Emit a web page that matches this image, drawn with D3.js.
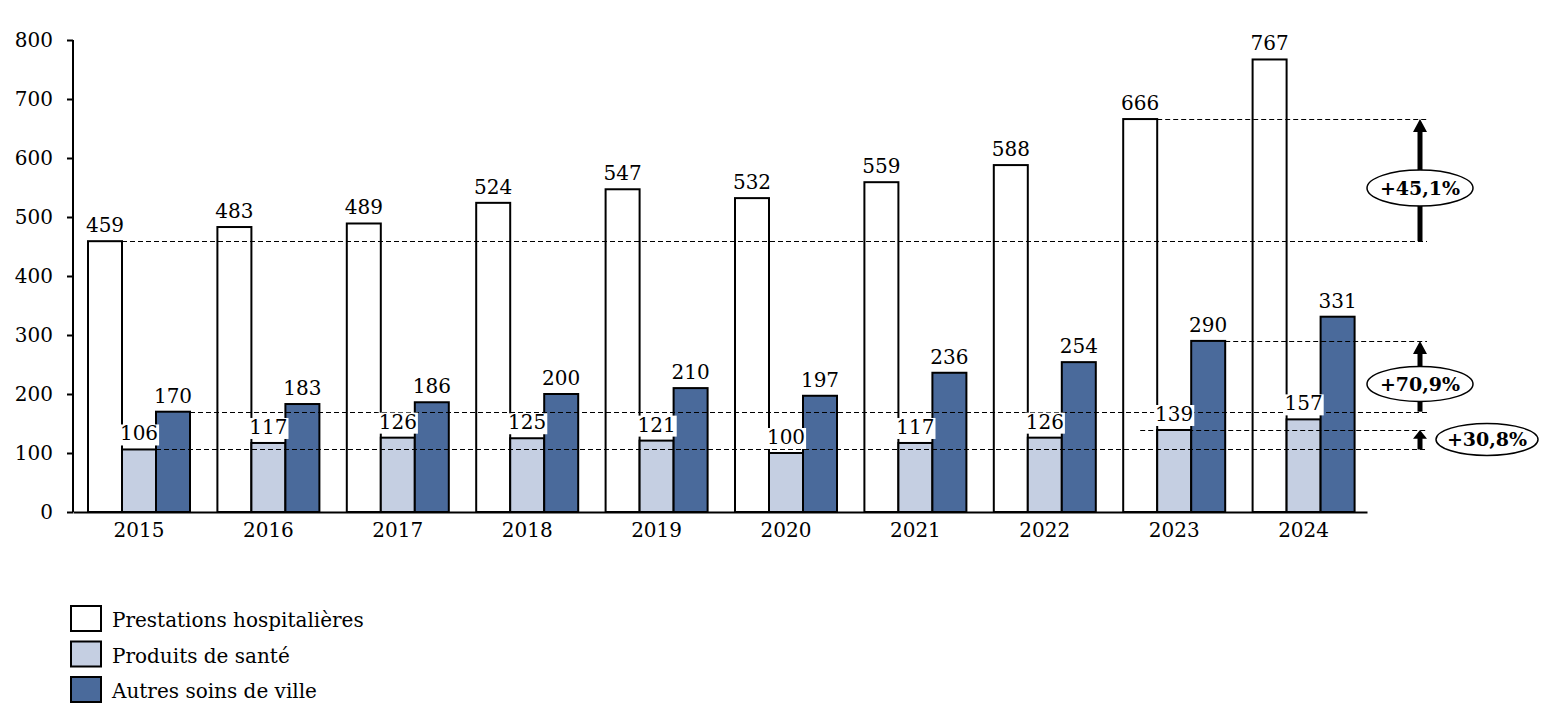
<!DOCTYPE html>
<html><head><meta charset="utf-8">
<script src="https://cdn.jsdelivr.net/npm/d3@7"></script>
<style>body{margin:0;background:#fff}svg{display:block}text{font-family:"DejaVu Serif",serif}</style>
</head><body><svg id="c" width="1541" height="716"></svg>
<script>
const years = [2015,2016,2017,2018,2019,2020,2021,2022,2023,2024];
const hospitalieres = [459,483,489,524,547,532,559,588,666,767];
const produits = [106,117,126,125,121,100,117,126,139,157];
const autres = [170,183,186,200,210,197,236,254,290,331];
const seriesNames = ["Prestations hospitalières","Produits de santé","Autres soins de ville"];
const seriesColors = ["#ffffff","#c5cfe2","#4a6a9b"];
const yTicks = [0,100,200,300,400,500,600,700,800];
// reference lines: value, start year, series index
const refLines = [
  {v:459, year:2015, s:0},
  {v:666, year:2023, s:0},
  {v:170, year:2015, s:2},
  {v:290, year:2023, s:2},
  {v:106, year:2015, s:1},
  {v:139, year:2023, s:0, mid:true}
];
const growth = [
  {from:459, to:666, label:"+45,1%", at:549, dx:0, rx:53, ry:18},
  {from:170, to:290, label:"+70,9%", at:217, dx:0, rx:53, ry:17.5},
  {from:106, to:139, label:"+30,8%", at:123, dx:67, rx:51, ry:16}
];

const seriesData = [hospitalieres, produits, autres];
const svg = d3.select("#c");
const x0 = d3.scaleBand().domain(years).range([73,1367]).padding(0);
const x1 = d3.scaleBand().domain([0,1,2]).range([15,117]).padding(0);
const y = d3.scaleLinear().domain([0,800]).range([512,40]);
const FS = 20;

// bars
const g = svg.append("g");
years.forEach((yr,i)=>{
  seriesData.forEach((arr,s)=>{
    g.append("rect")
      .attr("x", x0(yr)+x1(s)).attr("y", y(arr[i]))
      .attr("width", x1.bandwidth()).attr("height", y(0)-y(arr[i]))
      .attr("fill", seriesColors[s]).attr("stroke","#000").attr("stroke-width",2);
  });
});

// dashed reference lines
const lineEnd = 1427;
refLines.forEach(r=>{
  const xs = r.mid ? x0(r.year)+x1(r.s)+x1.bandwidth()/2 : x0(r.year)+x1(r.s)+x1.bandwidth();
  const yy = Math.round(y(r.v))+0.5;
  svg.append("line").attr("x1", xs).attr("x2", lineEnd)
    .attr("y1", yy).attr("y2", yy)
    .attr("stroke","#000").attr("stroke-width",1).attr("stroke-dasharray","5,3");
});

// value labels with white background
const lab = svg.append("g");
years.forEach((yr,i)=>{
  seriesData.forEach((arr,s)=>{
    const cx = x0(yr)+x1(s)+x1.bandwidth()/2;
    const t = lab.append("text").attr("x",cx).attr("y",y(arr[i])-9)
      .attr("text-anchor","middle").attr("font-size",FS).attr("fill","#000").text(arr[i]);
    const bb = t.node().getBBox();
    const bottom = Math.min(bb.y+bb.height, y(arr[i])-2);
    lab.insert("rect","text:last-child")
      .attr("x", bb.x-1).attr("y", bb.y+3).attr("width", bb.width+2).attr("height", bottom-bb.y-3)
      .attr("fill","#fff");
  });
});
lab.selectAll("text").raise();

// axes
const yAxis = svg.append("g").attr("transform","translate(73,0)")
  .call(d3.axisLeft(y).tickValues(yTicks).tickSize(6).tickPadding(14).tickFormat(d3.format("d")));
yAxis.select(".domain").attr("stroke","#000").attr("stroke-width",2).attr("d","M0,40V512");
yAxis.selectAll(".tick line").attr("stroke","#000").attr("stroke-width",2);
yAxis.selectAll(".tick text").attr("font-size",FS).attr("font-family","DejaVu Serif").attr("fill","#000");

const xAxis = svg.append("g").attr("transform","translate(0,512)")
  .call(d3.axisBottom(x0).tickSize(0).tickPadding(0));
xAxis.select(".domain").attr("stroke","#000").attr("stroke-width",2);
xAxis.selectAll(".tick").attr("transform", d=>`translate(${x0(d)+ (x1.range()[0]+x1.range()[1])/2},0)`);
xAxis.selectAll(".tick text").attr("font-size",FS).attr("font-family","DejaVu Serif").attr("fill","#000").attr("dy",null).attr("y",25);

// growth arrows
const ax = 1420;
growth.forEach(gr=>{
  const top = y(gr.to), bot = y(gr.from);
  const headH = Math.min(13, (bot-top)*0.45);
  svg.append("line").attr("x1",ax).attr("x2",ax).attr("y1",bot).attr("y2",top+headH-1)
    .attr("stroke","#000").attr("stroke-width",5);
  svg.append("path").attr("d",`M${ax},${top} L${ax+7},${top+headH} L${ax-7},${top+headH} Z`).attr("fill","#000");
  const cx = ax+gr.dx, cy = y(gr.at);
  svg.append("ellipse").attr("cx",cx).attr("cy",cy).attr("rx",gr.rx).attr("ry",gr.ry)
    .attr("fill","#fff").attr("stroke","#000").attr("stroke-width",1.5);
  svg.append("text").attr("x",cx).attr("y",cy).attr("dy","0.36em").attr("text-anchor","middle")
    .attr("font-size",FS-1).attr("font-weight","bold").text(gr.label);
});

// legend
const leg = svg.append("g");
seriesNames.forEach((n,i)=>{
  leg.append("rect").attr("x",71).attr("y",606+i*35.5).attr("width",30).attr("height",25)
    .attr("fill",seriesColors[i]).attr("stroke","#000").attr("stroke-width",2);
  leg.append("text").attr("x",112).attr("y",627+i*35.5).attr("font-size",FS).text(n);
});
</script></body></html>
